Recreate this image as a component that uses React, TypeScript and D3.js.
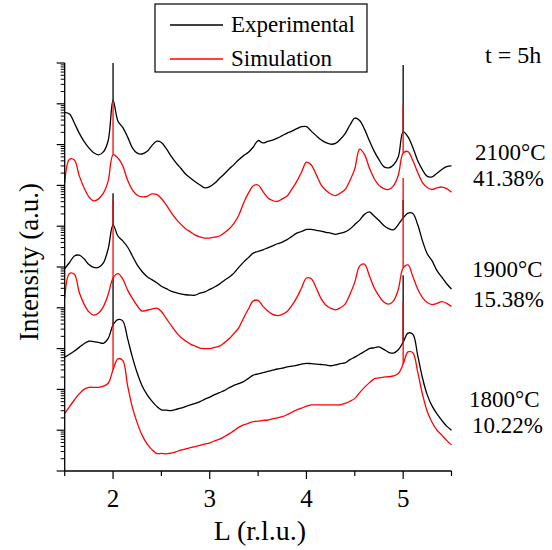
import React from 'react';
import * as d3 from 'd3';

// L grid (r.l.u.), shared by all six curves
const L = [
  1.5, 1.55, 1.6, 1.65, 1.7, 1.75, 1.8, 1.85, 1.9, 1.95,
  2.0, 2.05, 2.1, 2.15, 2.2, 2.25, 2.3, 2.35, 2.4, 2.45,
  2.5, 2.55, 2.6, 2.65, 2.7, 2.75, 2.8, 2.85, 2.9, 2.95,
  3.0, 3.05, 3.1, 3.15, 3.2, 3.25, 3.3, 3.35, 3.4, 3.45,
  3.5, 3.55, 3.6, 3.65, 3.7, 3.75, 3.8, 3.85, 3.9, 3.95,
  4.0, 4.05, 4.1, 4.15, 4.2, 4.25, 4.3, 4.35, 4.4, 4.45,
  4.5, 4.55, 4.6, 4.65, 4.7, 4.75, 4.8, 4.85, 4.9, 4.95,
  5.0, 5.05, 5.1, 5.15, 5.2, 5.25, 5.3, 5.35, 5.4, 5.45, 5.5,
];

// log10 of intensity (a.u.), curves are offset in decades
const exp2100 = [
  8.79, 8.75, 8.53, 8.28, 8.08, 7.92, 7.80, 7.75, 7.82, 8.10,
  9.09, 8.58, 8.42, 8.19, 7.92, 7.79, 7.77, 7.83, 7.97, 8.08,
  8.05, 7.90, 7.72, 7.56, 7.42, 7.28, 7.18, 7.09, 7.01, 6.94,
  6.97, 7.05, 7.17, 7.28, 7.40, 7.51, 7.63, 7.73, 7.81, 7.94,
  8.10, 8.04, 8.08, 8.11, 8.16, 8.22, 8.28, 8.33, 8.39, 8.44,
  8.44, 8.33, 8.22, 8.12, 8.05, 8.01, 8.03, 8.13, 8.27, 8.48,
  8.65, 8.59, 8.38, 8.10, 7.84, 7.63, 7.46, 7.43, 7.50, 7.70,
  8.31, 8.19, 7.93, 7.61, 7.38, 7.22, 7.21, 7.30, 7.39, 7.46, 7.48,
];
const sim2100 = [
  7.06, 7.64, 7.62, 7.24, 6.94, 6.72, 6.62, 6.67, 6.81, 7.11,
  7.75, 7.67, 7.48, 7.13, 6.89, 6.76, 6.72, 6.73, 6.79, 6.78,
  6.68, 6.52, 6.34, 6.18, 6.05, 5.94, 5.86, 5.78, 5.74, 5.71,
  5.71, 5.73, 5.76, 5.84, 5.93, 6.07, 6.27, 6.57, 6.81, 6.99,
  7.01, 6.85, 6.70, 6.63, 6.61, 6.67, 6.74, 6.91, 7.10, 7.33,
  7.57, 7.50, 7.27, 7.02, 6.88, 6.79, 6.75, 6.81, 6.90, 7.12,
  7.41, 7.89, 7.76, 7.43, 7.17, 7.00, 6.92, 6.90, 6.99, 7.25,
  7.79, 7.83, 7.61, 7.32, 7.07, 6.95, 6.90, 6.94, 6.96, 6.92, 6.83,
];
const exp1900 = [
  4.96, 5.11, 5.27, 5.29, 5.20, 5.06, 4.99, 4.99, 5.10, 5.45,
  6.03, 5.76, 5.64, 5.49, 5.27, 5.05, 4.89, 4.77, 4.69, 4.62,
  4.53, 4.47, 4.41, 4.37, 4.34, 4.32, 4.31, 4.31, 4.36, 4.39,
  4.45, 4.51, 4.58, 4.67, 4.75, 4.85, 4.99, 5.12, 5.23, 5.34,
  5.38, 5.42, 5.47, 5.52, 5.57, 5.61, 5.67, 5.75, 5.83, 5.87,
  5.92, 5.92, 5.90, 5.88, 5.85, 5.83, 5.80, 5.83, 5.86, 5.93,
  6.04, 6.15, 6.29, 6.35, 6.25, 6.14, 6.02, 5.94, 5.91, 6.04,
  6.20, 6.32, 6.31, 6.04, 5.64, 5.32, 5.15, 4.91, 4.75, 4.59, 4.46,
];
const sim1900 = [
  4.24, 4.84, 4.82, 4.38, 4.09, 3.90, 3.82, 3.87, 4.03, 4.33,
  4.73, 4.84, 4.71, 4.44, 4.23, 4.05, 3.92, 3.94, 3.97, 3.99,
  3.91, 3.74, 3.57, 3.41, 3.28, 3.19, 3.11, 3.06, 3.01, 3.00,
  3.00, 3.03, 3.06, 3.14, 3.24, 3.37, 3.51, 3.75, 3.97, 4.17,
  4.18, 4.04, 3.92, 3.84, 3.81, 3.84, 3.91, 4.06, 4.25, 4.49,
  4.73, 4.71, 4.49, 4.23, 4.07, 3.99, 3.95, 4.00, 4.09, 4.33,
  4.63, 5.02, 5.07, 4.79, 4.49, 4.29, 4.14, 4.09, 4.17, 4.45,
  4.98, 5.05, 4.77, 4.46, 4.25, 4.13, 4.08, 4.11, 4.15, 4.11, 4.03,
];
const exp1800 = [
  2.79, 2.86, 2.94, 3.03, 3.12, 3.18, 3.17, 3.15, 3.13, 3.25,
  3.58, 3.71, 3.68, 3.25, 2.79, 2.40, 2.09, 1.88, 1.72, 1.59,
  1.50, 1.49, 1.48, 1.51, 1.54, 1.58, 1.62, 1.66, 1.70, 1.76,
  1.81, 1.87, 1.92, 1.97, 2.04, 2.10, 2.14, 2.19, 2.27, 2.35,
  2.38, 2.41, 2.44, 2.47, 2.50, 2.52, 2.55, 2.57, 2.59, 2.62,
  2.64, 2.63, 2.62, 2.61, 2.60, 2.58, 2.60, 2.63, 2.65, 2.73,
  2.79, 2.86, 2.93, 3.00, 3.02, 3.04, 2.98, 2.91, 2.89, 2.97,
  3.16, 3.38, 3.35, 2.84, 2.28, 1.86, 1.59, 1.40, 1.24, 1.10, 1.00,
];
const sim1800 = [
  1.41, 1.58, 1.74, 1.89, 2.00, 2.05, 2.05, 2.05, 2.08, 2.15,
  2.48, 2.75, 2.71, 2.10, 1.56, 1.18, 0.88, 0.67, 0.53, 0.43,
  0.43, 0.42, 0.44, 0.47, 0.51, 0.54, 0.57, 0.60, 0.63, 0.66,
  0.69, 0.74, 0.78, 0.84, 0.91, 0.99, 1.07, 1.13, 1.17, 1.21,
  1.22, 1.24, 1.25, 1.28, 1.30, 1.33, 1.38, 1.44, 1.50, 1.54,
  1.59, 1.62, 1.62, 1.62, 1.62, 1.62, 1.62, 1.62, 1.66, 1.71,
  1.78, 1.92, 2.05, 2.16, 2.26, 2.28, 2.30, 2.31, 2.33, 2.39,
  2.62, 2.92, 2.90, 2.43, 1.88, 1.45, 1.19, 1.00, 0.88, 0.75, 0.64,
];

// sharp Bragg peaks at L = 2 and 5 (log10 of the peak top)
const braggL = [2, 5];
const exp2100Peak = [10.0, 9.95];
const sim2100Peak = [9.05, 8.97];
const exp1900Peak = [6.81, 6.64];
const sim1900Peak = [6.64, 7.18];
const exp1800Peak = [4.73, 4.8];
const sim1800Peak = [3.65, 4.14];

const xMajor = [2, 3, 4, 5];
const xMinor = [1.5, 2.5, 3.5, 4.5, 5.5];

const labels = [
  { temp: '2100°C', frac: '41.38%', y1: 160, y2: 186, x1: 475, x2: 473 },
  { temp: '1900°C', frac: '15.38%', y1: 277, y2: 307, x1: 472, x2: 473 },
  { temp: '1800°C', frac: '10.22%', y1: 407, y2: 433, x1: 469, x2: 472 },
];

const serif = { fontFamily: "'Liberation Serif', 'Times New Roman', Times, serif" };

export default function App() {
  const x = d3.scaleLinear().domain([1.5, 5.5]).range([64.7, 451.5]);
  const y = d3.scaleLog().domain([1, 1e10]).range([471, 63]);

  const line = d3
    .line<number>()
    .x((_, i) => x(L[i]))
    .y((v) => y(Math.pow(10, v)))
    .curve(d3.curveCatmullRom.alpha(0.5));

  const expSeries = [
    { vals: exp2100, peaks: exp2100Peak },
    { vals: exp1900, peaks: exp1900Peak },
    { vals: exp1800, peaks: exp1800Peak },
  ];
  const simSeries = [
    { vals: sim2100, peaks: sim2100Peak },
    { vals: sim1900, peaks: sim1900Peak },
    { vals: sim1800, peaks: sim1800Peak },
  ];

  const spikes = (s: { vals: number[]; peaks: number[] }, color: string, key: string) =>
    braggL.map((l, j) => {
      const i = L.indexOf(l);
      return (
        <line
          key={key + j}
          x1={x(l)}
          x2={x(l)}
          y1={y(Math.pow(10, s.vals[i]))}
          y2={y(Math.pow(10, s.peaks[j]))}
          stroke={color}
          strokeWidth={1.3}
        />
      );
    });

  // log ticks: decades and 2..9 subdivisions
  const yMajor: number[] = [];
  const yMinor: number[] = [];
  for (let k = 0; k <= 10; k++) yMajor.push(Math.pow(10, k));
  for (let k = 0; k < 10; k++) for (let m = 2; m <= 9; m++) yMinor.push(m * Math.pow(10, k));

  const [x0, x1] = x.range();
  const [yb, yt] = y.range();

  return (
    <svg
      width={552}
      height={550}
      style={{ position: 'absolute', left: 0, top: 0, background: '#fff' }}
    >
      {/* curves */}
      {expSeries.map((s, k) => (
        <path key={'e' + k} d={line(s.vals) || ''} fill="none" stroke="#000" strokeWidth={1.3} />
      ))}
      {expSeries.map((s, k) => spikes(s, '#000', 'es' + k))}
      {simSeries.map((s, k) => (
        <path key={'s' + k} d={line(s.vals) || ''} fill="none" stroke="#ff0000" strokeWidth={1.3} />
      ))}
      {simSeries.map((s, k) => spikes(s, '#ff0000', 'ss' + k))}

      {/* y axis */}
      <line x1={x0} x2={x0} y1={yt} y2={yb} stroke="#000" strokeWidth={1.3} />
      {yMajor.map((t) => (
        <line key={'ym' + t} x1={x0 - 8} x2={x0} y1={y(t)} y2={y(t)} stroke="#000" strokeWidth={1.2} />
      ))}
      {yMinor.map((t) => (
        <line key={'yn' + t} x1={x0 - 4} x2={x0} y1={y(t)} y2={y(t)} stroke="#000" strokeWidth={1} />
      ))}

      {/* x axis */}
      <line x1={x0} x2={x1} y1={yb} y2={yb} stroke="#000" strokeWidth={1.3} />
      {xMajor.map((t) => (
        <g key={'xm' + t}>
          <line x1={x(t)} x2={x(t)} y1={yb} y2={yb + 8} stroke="#000" strokeWidth={1.2} />
          <text x={x(t)} y={507} fontSize={25} textAnchor="middle" style={serif}>
            {t}
          </text>
        </g>
      ))}
      {xMinor.map((t) => (
        <line key={'xn' + t} x1={x(t)} x2={x(t)} y1={yb} y2={yb + 5} stroke="#000" strokeWidth={1.2} />
      ))}

      {/* axis titles */}
      <text x={260} y={540} fontSize={28} textAnchor="middle" style={serif}>
        L (r.l.u.)
      </text>
      <text transform="translate(38,262) rotate(-90)" fontSize={27} textAnchor="middle" style={serif}>
        Intensity (a.u.)
      </text>

      {/* legend */}
      <rect x={155} y={4} width={212} height={68} fill="#fff" stroke="#000" strokeWidth={1.2} />
      <line x1={170} x2={223} y1={25} y2={25} stroke="#000" strokeWidth={1.3} />
      <text x={231} y={32} fontSize={23} style={serif}>
        Experimental
      </text>
      <line x1={170} x2={223} y1={59} y2={59} stroke="#ff0000" strokeWidth={1.3} />
      <text x={231} y={66} fontSize={23} style={serif}>
        Simulation
      </text>

      {/* annotations */}
      <text x={485} y={63} fontSize={24} style={serif}>
        t = 5h
      </text>
      {labels.map((d) => (
        <g key={d.temp}>
          <text x={d.x1} y={d.y1} fontSize={23} style={serif}>
            {d.temp}
          </text>
          <text x={d.x2} y={d.y2} fontSize={23} style={serif}>
            {d.frac}
          </text>
        </g>
      ))}
    </svg>
  );
}
